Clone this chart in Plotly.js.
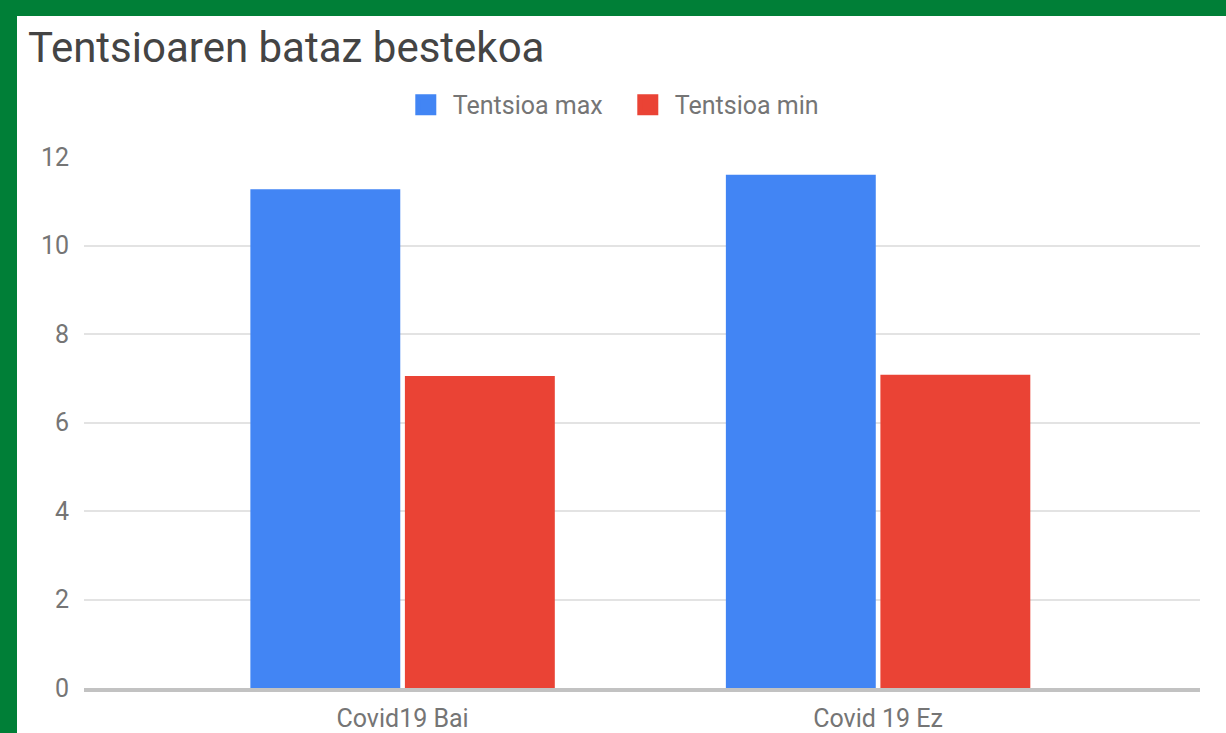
<!DOCTYPE html>
<html>
<head>
<meta charset="utf-8">
<script src="https://cdn.plot.ly/plotly-3.0.1.min.js"></script>
<style>
html,body{margin:0;padding:0;background:#007f37;width:1226px;height:733px;overflow:hidden;}
#chart{position:absolute;left:17px;top:16px;width:1209px;height:717px;background:#fff;}
</style>
</head>
<body>
<div id="chart"></div>
<script>
const categories = ["Covid19 Bai", "Covid 19 Ez"];
const seriesNames = ["Tentsioa max", "Tentsioa min"];
const tentsioaMax = [11.27, 11.6];
const tentsioaMin = [7.05, 7.08];
const yTicks = [0, 2, 4, 6, 8, 10, 12];
const colors = ["#4285f4", "#ea4335"];

const font = "Roboto, Arial, sans-serif";
const seriesValues = [tentsioaMax, tentsioaMin];

const traces = [];
seriesValues.forEach((vals, i) => {
  traces.push({
    type: "bar", x: categories, y: vals, name: seriesNames[i],
    marker: {color: colors[i]}, showlegend: false, hoverinfo: "x+y+name"
  });
});
seriesValues.forEach((vals, i) => {
  traces.push({
    type: "scatter", mode: "markers", x: [null], y: [null], name: seriesNames[i],
    marker: {symbol: "square", size: 16, color: colors[i], line: {color: colors[i], width: 5}},
    showlegend: true, hoverinfo: "skip"
  });
});

const layout = {
  width: 1209, height: 717,
  paper_bgcolor: "#ffffff", plot_bgcolor: "#ffffff",
  margin: {l: 67, r: 26, t: 141, b: 45},
  font: {family: font, color: "#757575", size: 25},
  title: {
    text: "Tentsioaren bataz bestekoa",
    font: {family: font, size: 42, color: "#444444"},
    xref: "container", x: 0.009, xanchor: "left",
    yref: "container", y: 0.956, yanchor: "middle"
  },
  barmode: "group", bargap: 0.35, bargroupgap: 0.03,
  legend: {
    orientation: "h", x: 0.481, xanchor: "center", y: 1.098, yanchor: "middle",
    font: {family: font, size: 25, color: "#757575"}, itemwidth: 44, itemsizing: "trace",
    entrywidth: 163
  },
  xaxis: {
    type: "category", range: [-0.67, 1.677],
    showgrid: false, zeroline: false,
    showline: true, linecolor: "rgba(120,120,120,0.45)", linewidth: 4,
    layer: "above traces",
    ticks: "outside", ticklen: 5, tickcolor: "rgba(0,0,0,0)",
    tickfont: {family: font, size: 25, color: "#757575"}
  },
  yaxis: {
    range: [0, 12], tickvals: yTicks, ticktext: yTicks.map(String),
    showgrid: true, gridcolor: "#e3e3e3", gridwidth: 2,
    zeroline: false, showline: false,
    ticks: "outside", ticklen: 9, tickcolor: "rgba(0,0,0,0)",
    tickfont: {family: font, size: 25, color: "#757575"}
  },
  showlegend: true
};

Plotly.newPlot("chart", traces, layout, {displayModeBar: false, staticPlot: true});
</script>
</body>
</html>
